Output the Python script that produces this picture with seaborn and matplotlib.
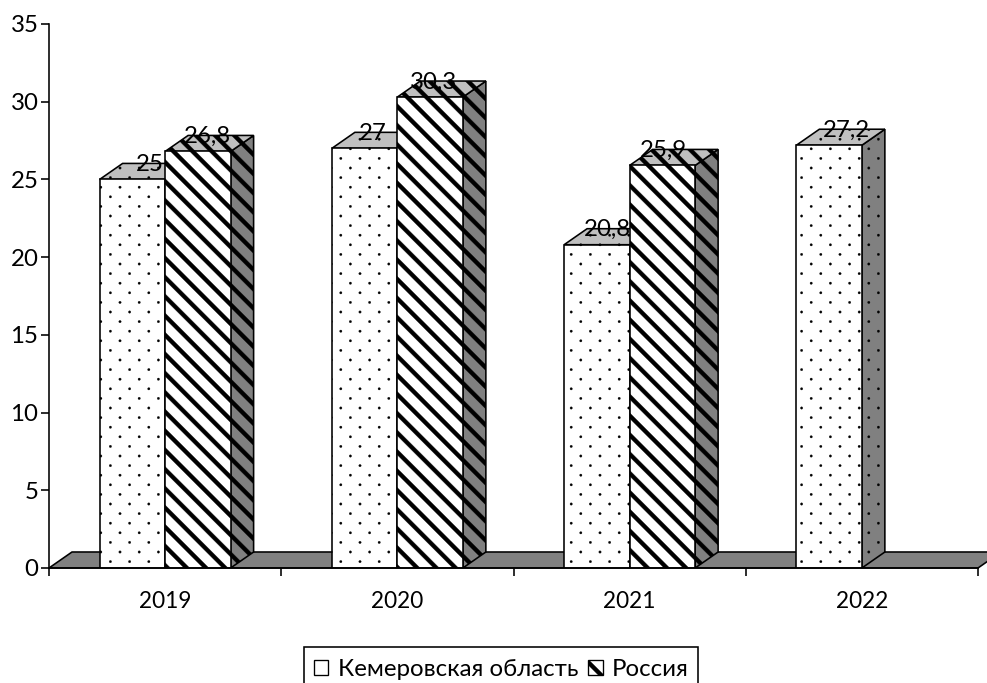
import numpy as np
import pandas as pd
import matplotlib
matplotlib.use("Agg")
import matplotlib.pyplot as plt
import matplotlib.hatch as mhatch
from matplotlib.patches import Patch, Polygon, Rectangle
from matplotlib.path import Path
import seaborn as sns

years = ["2019", "2020", "2021", "2022"]
region_name = "Кемеровская область"
country_name = "Россия"
region_values = [25, 27, 20.8, 27.2]
country_values = [26.8, 30.3, 25.9]
country_years = ["2019", "2020", "2021"]
y_ticks = [0, 5, 10, 15, 20, 25, 30, 35]


class WideStripes(mhatch.HatchPatternBase):
    """Filled diagonal bands, so their weight is independent of the dot fill."""
    per_tile = 5
    band = 0.06

    def __init__(self, hatch, density):
        self.count = hatch.count("\\")
        self.num_vertices = 5 * (2 * self.per_tile + 1) if self.count else 0

    def set_vertices_and_codes(self, vertices, codes):
        w = self.band
        for k in range(2 * self.per_tile + 1):
            c = k / self.per_tile
            vertices[5 * k:5 * k + 5] = [(c + 1, -1), (c + 1 + w, -1), (c - 2 + w, 2),
                                         (c - 2, 2), (c + 1, -1)]
            codes[5 * k:5 * k + 5] = [Path.MOVETO, Path.LINETO, Path.LINETO,
                                      Path.LINETO, Path.CLOSEPOLY]


class SparseDots(mhatch.HatchPatternBase):
    """Staggered rows of tiny dots."""
    cols = 5
    rows = 10
    radius = 0.0125

    def __init__(self, hatch, density):
        self.count = hatch.count(".")
        self.centres = []
        if self.count:
            for r in range(self.rows):
                shift = 0.5 / self.cols if r % 2 else 0.0
                for c in range(self.cols):
                    self.centres.append(((c + 0.25) / self.cols + shift, (r + 0.5) / self.rows))
        circle = Path.unit_circle()
        self.shape_v, self.shape_c = circle.vertices, circle.codes
        self.num_vertices = len(self.centres) * len(self.shape_v)

    def set_vertices_and_codes(self, vertices, codes):
        n = len(self.shape_v)
        for i, (x, y) in enumerate(self.centres):
            vertices[i * n:(i + 1) * n] = self.shape_v * self.radius + (x, y)
            codes[i * n:(i + 1) * n] = self.shape_c


mhatch._hatch_types[:] = [WideStripes, SparseDots]

sns.set_theme(style="white")
plt.rcParams["font.family"] = ["Lato", "Open Sans", "DejaVu Sans"]
plt.rcParams["hatch.linewidth"] = 0.2
plt.rcParams["font.size"] = 18

table = pd.concat([
    pd.DataFrame({"year": years, "value": region_values, "series": region_name}),
    pd.DataFrame({"year": country_years, "value": country_values, "series": country_name}),
])

W, H = 987, 683
fig = plt.figure(figsize=(W / 96, H / 96), dpi=96, facecolor="white")
ax = fig.add_axes([49 / W, (H - 568) / H, (978 - 49) / W, (568 - 24) / H])

sns.barplot(data=table, x="year", y="value", hue="series", order=years,
            hue_order=[region_name, country_name], palette=["white", "white"],
            saturation=1, width=0.564, gap=0, edgecolor="black", linewidth=1.2,
            legend=False, ax=ax)

ax.set_xlim(-0.5, 3.5)
ax.set_ylim(0, 35)

# Apparent depth of the extruded columns, in data units
depth_x, depth_y = 0.099, 1.03
edge = dict(edgecolor="black", linewidth=1.2)

# Floor plane running under all the columns
x0, x1 = ax.get_xlim()
ax.add_patch(Polygon([(x0, 0), (x0 + depth_x, depth_y), (x1 + depth_x, depth_y), (x1, 0)],
                     facecolor="#808080", zorder=1, clip_on=False, **edge))

# Horizontal nudge of each value label, in pixels
label_shift = {region_name: [17, 8, 11, 17], country_name: [10, 3, 1]}

for level, (container, name, hatch) in enumerate(
        zip(ax.containers, [region_name, country_name], [".", "\\"])):
    base = 2 + 2 * level
    for bar, shift in zip(container.patches, label_shift[name]):
        left, right = bar.get_x(), bar.get_x() + bar.get_width()
        top = bar.get_height()
        bar.set_hatch(hatch)
        bar.set_zorder(base + 1)
        ax.add_patch(Polygon([(right, 0), (right + depth_x, depth_y),
                              (right + depth_x, top + depth_y), (right, top)],
                             facecolor="#808080", hatch=hatch, zorder=base, **edge))
        ax.add_patch(Polygon([(left, top), (left + depth_x, top + depth_y),
                              (right + depth_x, top + depth_y), (right, top)],
                             facecolor="#c0c0c0", hatch=hatch, zorder=base, **edge))
        ax.annotate(f"{top:g}".replace(".", ","), xy=((left + right) / 2, top + depth_y),
                    xytext=(shift * 0.75, -0.75), textcoords="offset points",
                    ha="center", va="center", fontsize=18, color="black", zorder=10)

# Axes furniture: ticks between the years, labels centred on them
sns.despine(ax=ax)
for side in ("left", "bottom"):
    ax.spines[side].set_color("black")
    ax.spines[side].set_linewidth(1.2)
    ax.spines[side].set_zorder(7)
ax.set_xlabel("")
ax.set_ylabel("")
ax.set_xticks(np.arange(-0.5, 4), labels=[])
ax.set_xticks(np.arange(len(years)), labels=years, minor=True)
ax.tick_params(axis="x", which="major", length=6, width=1.2, color="black", bottom=True)
ax.tick_params(axis="x", which="minor", length=0, pad=17, labelsize=17, labelcolor="black")
ax.set_yticks(y_ticks)
ax.tick_params(axis="y", length=6, width=1.2, color="black", left=True, pad=2,
               labelsize=18, labelcolor="black")

# Legend entries inside a frame whose lower edge runs off the canvas
fig.add_artist(Rectangle((304 / W, -8 / H), 393.5 / W, (H - 647 + 8) / H,
                         transform=fig.transFigure, facecolor="white",
                         edgecolor="black", linewidth=1.2))
handles = [Patch(facecolor="white", edgecolor="black", hatch=".", label=region_name),
           Patch(facecolor="white", edgecolor="black", hatch="\\", label=country_name)]
fig.legend(handles=handles, loc="upper left", bbox_to_anchor=(313.5 / W, (H - 659) / H),
           ncol=2, fontsize=18, frameon=False, handlelength=0.62, handleheight=0.62,
           handletextpad=0.38, columnspacing=0.42, borderpad=0, borderaxespad=0,
           labelcolor="black")

fig.savefig("out.png", dpi=96, facecolor="white")
